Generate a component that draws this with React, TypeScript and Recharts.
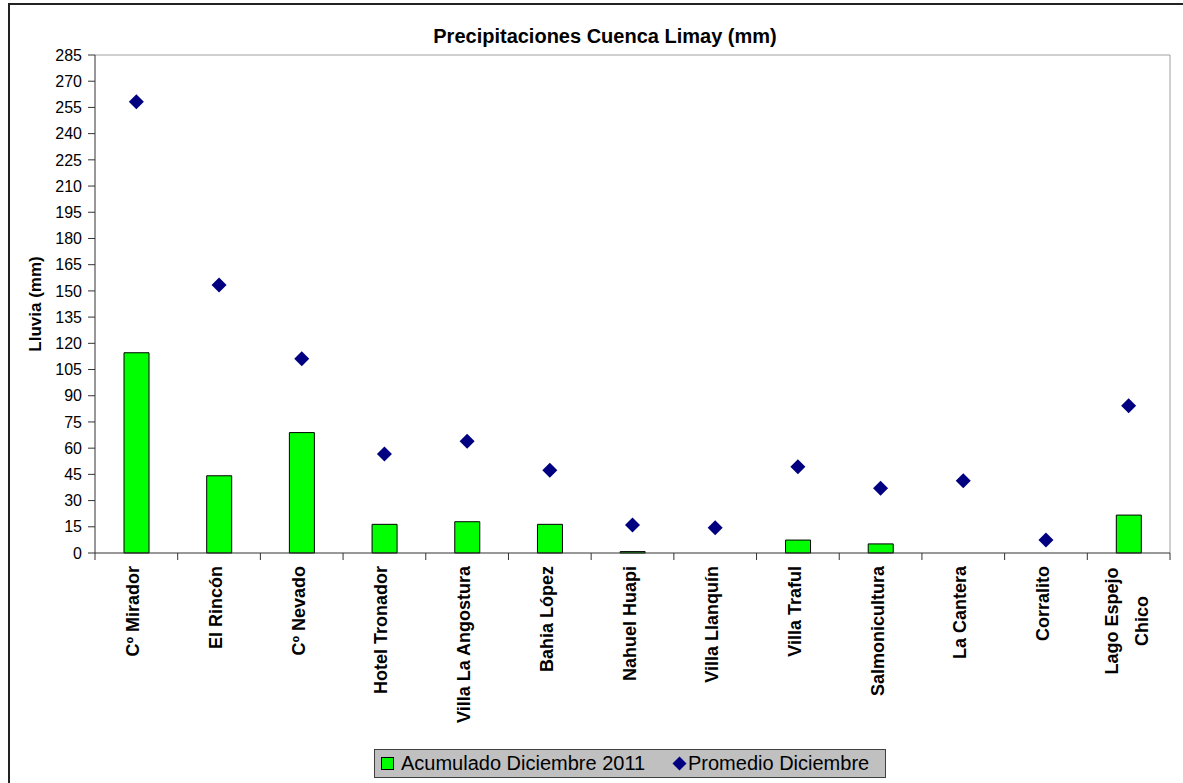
import { ComposedChart, Bar, Line, XAxis, YAxis, CartesianGrid } from 'recharts';

// Estaciones de la cuenca (el "\n" marca el salto de línea de la etiqueta)
const estaciones = [
  'Cº Mirador',
  'El Rincón',
  'Cº Nevado',
  'Hotel Tronador',
  'Villa La Angostura',
  'Bahia López',
  'Nahuel Huapi',
  'Villa Llanquín',
  'Villa Traful',
  'Salmonicultura',
  'La Cantera',
  'Corralito',
  'Lago Espejo\nChico',
];

const acumuladoDic2011 = [114.6, 44.2, 68.9, 16.4, 17.9, 16.4, 0.8, 0, 7.4, 5.2, 0, 0, 21.7];
const promedioDic = [258.3, 153.4, 111.2, 56.7, 63.9, 47.3, 16.0, 14.5, 49.4, 37.0, 41.4, 7.4, 84.3];

const yTicks = [0, 15, 30, 45, 60, 75, 90, 105, 120, 135, 150, 165, 180, 195, 210, 225, 240, 255, 270, 285];

const data = estaciones.map((name, i) => ({
  name,
  acumulado: acumuladoDic2011[i],
  promedio: promedioDic[i],
}));

const W = 1183;
const H = 783;
const PLOT_LEFT = 95;
const PLOT_RIGHT = 1170;
const PLOT_TOP = 55;
const PLOT_BOTTOM = 553;
const BAND = (PLOT_RIGHT - PLOT_LEFT) / estaciones.length;
const FONT = '"Liberation Sans", Arial, sans-serif';

const XTick = (props: any) => {
  const { x, y, payload, index } = props;
  const lines: string[] = String(payload.value).split('\n');
  const top = y + 13;
  const isLast = index === estaciones.length - 1;
  let textEl;
  if (lines.length === 1) {
    textEl = (
      <text
        x={x}
        y={top}
        dy={3}
        textAnchor="end"
        transform={`rotate(-90, ${x}, ${top})`}
        fontFamily={FONT}
        fontWeight="bold"
        fontSize={18}
        fill="#000"
      >
        {lines[0]}
      </text>
    );
  } else {
    const longest = Math.max(...lines.map((l) => l.length));
    const mid = top + (longest * 10) / 2;
    textEl = (
      <text
        x={x}
        y={mid}
        textAnchor="middle"
        transform={`rotate(-90, ${x}, ${mid})`}
        fontFamily={FONT}
        fontWeight="bold"
        fontSize={18}
        fill="#000"
      >
        {lines.map((l, i) => (
          <tspan key={i} x={x} dy={i === 0 ? -11 : 30}>
            {l}
          </tspan>
        ))}
      </text>
    );
  }
  return (
    <g>
      <line x1={x - BAND / 2} y1={y} x2={x - BAND / 2} y2={y + 7} stroke="#333" />
      {isLast && <line x1={x + BAND / 2} y1={y} x2={x + BAND / 2} y2={y + 7} stroke="#333" />}
      {textEl}
    </g>
  );
};

const Diamond = (props: any) => {
  const { cx, cy, index } = props;
  if (cx == null || cy == null) return <g key={index} />;
  const r = 7.5;
  return (
    <polygon
      key={index}
      points={`${cx},${cy - r} ${cx + r},${cy} ${cx},${cy + r} ${cx - r},${cy}`}
      fill="#000080"
    />
  );
};

const YLabel = (props: any) => {
  const { viewBox } = props;
  const cx = 35;
  const cy = viewBox.y + viewBox.height / 2;
  return (
    <text
      x={cx}
      y={cy}
      dy={6}
      textAnchor="middle"
      transform={`rotate(-90, ${cx}, ${cy})`}
      fontFamily={FONT}
      fontWeight="bold"
      fontSize={17}
      fill="#000"
    >
      Lluvia (mm)
    </text>
  );
};

const App = () => {
  return (
    <div
      style={{
        position: 'fixed',
        left: 0,
        top: 0,
        width: W,
        height: H,
        background: '#fff',
        overflow: 'hidden',
        fontFamily: FONT,
      }}
    >
      <div
        style={{
          position: 'absolute',
          left: 8,
          top: 3,
          width: 1200,
          height: 800,
          border: '2px solid #222',
        }}
      />
      <div style={{ position: 'absolute', left: 0, top: 0 }}>
        <ComposedChart
          width={W}
          height={H}
          data={data}
          margin={{ top: PLOT_TOP, right: W - PLOT_RIGHT, bottom: 0, left: 0 }}
        >
          {/* borde gris superior y derecho del área de trazado */}
          <CartesianGrid
            stroke="#a0a0a0"
            horizontalCoordinatesGenerator={({ offset }: any) => [offset.top]}
            verticalCoordinatesGenerator={({ offset }: any) => [offset.left + offset.width]}
          />
          <XAxis
            dataKey="name"
            interval={0}
            height={H - PLOT_BOTTOM}
            tickLine={false}
            tickSize={0}
            tickMargin={0}
            axisLine={{ stroke: '#333' }}
            tick={<XTick />}
          />
          <YAxis
            width={PLOT_LEFT}
            domain={[0, 285]}
            ticks={yTicks}
            interval={0}
            tickSize={7}
            tickMargin={6}
            axisLine={{ stroke: '#333' }}
            tickLine={{ stroke: '#333' }}
            tick={{ fontSize: 16, fill: '#000', fontFamily: FONT }}
            label={<YLabel />}
          />
          <Bar
            dataKey="acumulado"
            name="Acumulado Diciembre 2011"
            fill="#00ff00"
            stroke="#000"
            strokeWidth={1}
            barSize={25}
            isAnimationActive={false}
          />
          <Line
            dataKey="promedio"
            name="Promedio Diciembre"
            stroke="none"
            dot={<Diamond />}
            activeDot={false}
            isAnimationActive={false}
          />
        </ComposedChart>
      </div>
      <div
        style={{
          position: 'absolute',
          left: 0,
          width: 1210,
          top: 26,
          textAlign: 'center',
          fontSize: 20,
          lineHeight: '20px',
          fontWeight: 'bold',
          color: '#000',
        }}
      >
        Precipitaciones Cuenca Limay (mm)
      </div>
      <div
        style={{
          position: 'absolute',
          left: 374,
          top: 749,
          width: 512,
          height: 29,
          boxSizing: 'border-box',
          border: '1px solid #404040',
          background: '#c0c0c0',
          fontSize: 20,
          color: '#000',
        }}
      >
        <div
          style={{
            position: 'absolute',
            left: 6,
            top: 7,
            width: 13,
            height: 13,
            boxSizing: 'border-box',
            border: '1px solid #000',
            background: '#00ff00',
          }}
        />
        <div style={{ position: 'absolute', left: 26, top: 2, lineHeight: '23px' }}>Acumulado Diciembre 2011</div>
        <svg style={{ position: 'absolute', left: 297, top: 6 }} width={15} height={15}>
          <polygon points="7.5,0.5 14.5,7.5 7.5,14.5 0.5,7.5" fill="#000080" />
        </svg>
        <div style={{ position: 'absolute', left: 313, top: 2, lineHeight: '23px' }}>Promedio Diciembre</div>
      </div>
    </div>
  );
};

export default App;
